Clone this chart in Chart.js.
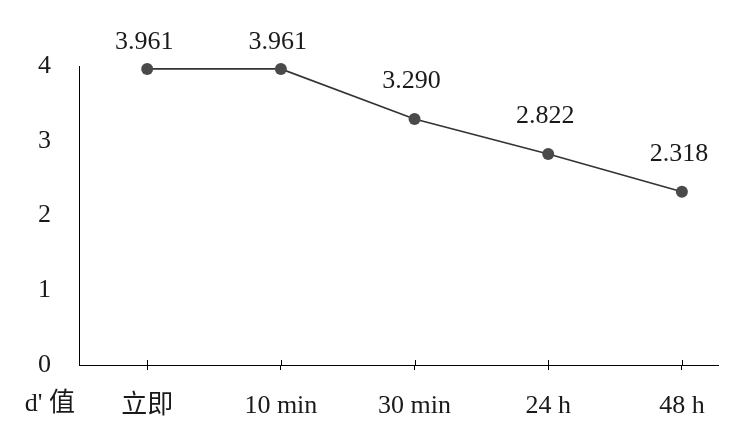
<!DOCTYPE html>
<html>
<head>
<meta charset="utf-8">
<script src="https://cdn.jsdelivr.net/npm/chart.js@4/dist/chart.umd.min.js"></script>
<style>
html,body{margin:0;padding:0;background:#fff;}
#wrap{width:736px;height:442px;position:relative;}
</style>
</head>
<body>
<div id="wrap"><canvas id="c" width="736" height="442"></canvas></div>
<script>
const categories = ["立即", "10 min", "30 min", "24 h", "48 h"];
const dValues = [3.961, 3.961, 3.290, 2.822, 2.318];
const valueLabels = ["3.961", "3.961", "3.290", "2.822", "2.318"];
const yTicks = [0, 1, 2, 3, 4];
const rowLabel = "d' 值";

const FONT = "'Liberation Serif', 'Times New Roman', 'Noto Sans CJK SC', serif";

const labelPlugin = {
  id: 'labels',
  afterDatasetsDraw(chart) {
    const ctx = chart.ctx;
    const meta = chart.getDatasetMeta(0);
    const xs = chart.scales.x;
    ctx.save();
    // inner half of the crossing tick marks
    ctx.strokeStyle = '#000';
    ctx.lineWidth = 1;
    xs.ticks.forEach(t => {
      const px = Math.round(xs.getPixelForValue(t.value)) + 0.5;
      ctx.beginPath();
      ctx.moveTo(px, chart.chartArea.bottom - 5);
      ctx.lineTo(px, chart.chartArea.bottom);
      ctx.stroke();
    });
    ctx.font = "26px " + FONT;
    ctx.fillStyle = "#1a1a1a";
    ctx.textAlign = "center";
    ctx.textBaseline = "middle";
    meta.data.forEach((pt, i) => {
      const y = Math.max(pt.y - 38, 42);
      ctx.fillText(valueLabels[i], pt.x - 3, y);
    });
    ctx.textAlign = "right";
    ctx.fillText(rowLabel, chart.chartArea.left - 4, 404);
    ctx.restore();
  }
};

new Chart(document.getElementById('c'), {
  type: 'line',
  data: {
    datasets: [{
      data: dValues.map((v, i) => ({x: i, y: v})),
      borderColor: '#333333',
      borderWidth: 1.6,
      pointRadius: 6,
      pointHoverRadius: 6,
      pointBackgroundColor: '#4a4a4a',
      pointBorderColor: '#4a4a4a',
      pointBorderWidth: 0,
      tension: 0,
      fill: false,
      clip: false
    }]
  },
  options: {
    responsive: false,
    animation: false,
    devicePixelRatio: 1,
    layout: {padding: {left: 0, right: 18, top: 66, bottom: 0}},
    plugins: {legend: {display: false}, tooltip: {enabled: false}},
    scales: {
      x: {
        type: 'linear',
        min: -0.51,
        max: 4.27,
        afterBuildTicks: (s) => { s.ticks = categories.map((_, i) => ({value: i})); },
        afterFit: (s) => { s.height = 77; },
        grid: {display: true, drawOnChartArea: false, drawTicks: true, tickLength: 5, color: '#000', lineWidth: 1},
        border: {display: true, color: '#000', width: 1},
        ticks: {
          callback: (v) => categories[v],
          color: '#1a1a1a',
          font: {family: FONT, size: 26},
          padding: 21,
          maxRotation: 0,
          autoSkip: false
        }
      },
      y: {
        min: 0,
        max: 4,
        afterBuildTicks: (s) => { s.ticks = yTicks.map(v => ({value: v})); },
        afterFit: (s) => { s.width = 79; },
        grid: {display: false, drawTicks: false},
        border: {display: true, color: '#000', width: 1},
        ticks: {
          color: '#1a1a1a',
          font: {family: FONT, size: 26},
          padding: 28
        }
      }
    }
  },
  plugins: [labelPlugin]
});
</script>
</body>
</html>
